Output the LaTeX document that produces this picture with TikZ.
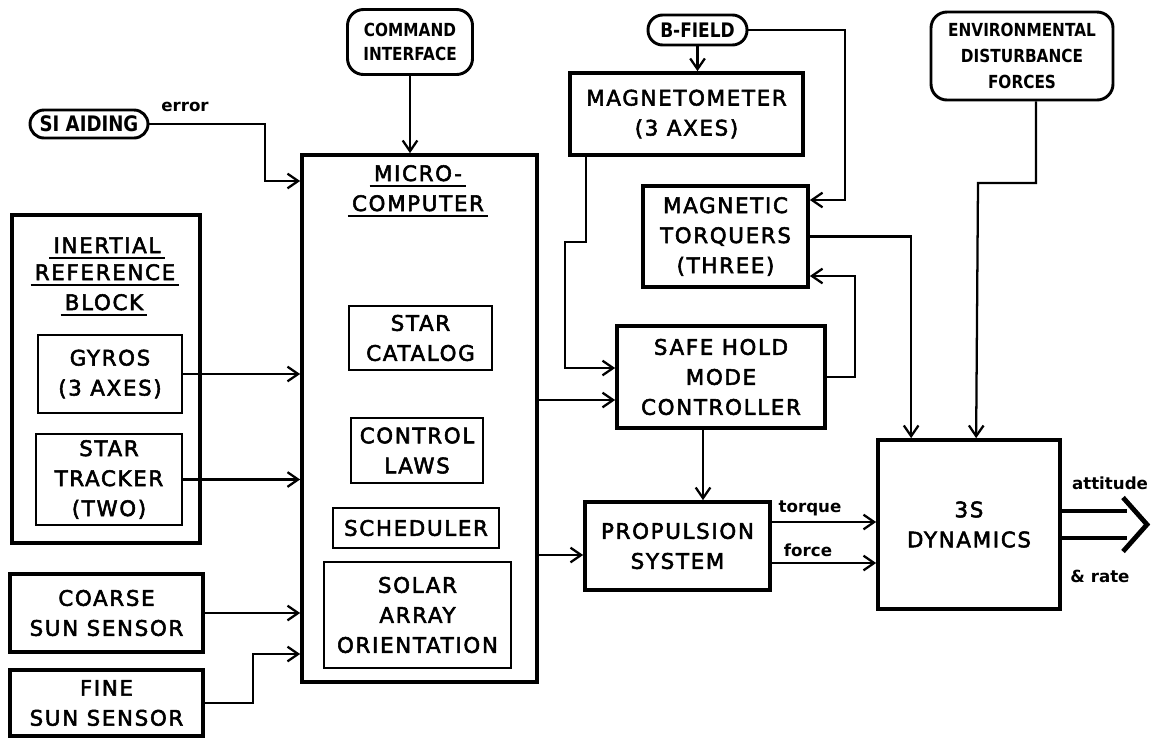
\documentclass[tikz,border=0pt]{standalone}
\usepackage{fontspec}
\setmainfont{DejaVu Sans}[LetterSpace=8,FakeBold=2.5]
\newfontfamily\pillfont{DejaVu Sans}[FakeStretch=0.85]
\newfontfamily\labelfont{DejaVu Sans}
\usetikzlibrary{arrows.meta,positioning,calc}

\begin{document}
\begin{tikzpicture}[x=0.75pt,y=-0.75pt,
  sz/.style 2 args={minimum width=#1*0.75pt,minimum height=#2*0.75pt},
  blk/.style={draw,line width=2.8pt,inner sep=0pt,align=center,font=\fontsize{16}{22.5}\selectfont},
  sub/.style={blk,line width=1.8pt},
  pill/.style={draw,line width=2.2pt,inner sep=0pt,align=center,rounded corners=12pt,
    font=\pillfont\bfseries\fontsize{13.5}{18.5}\selectfont},
  ttl/.style={inner xsep=3pt,inner ysep=3.5pt,font=\fontsize{16}{20}\selectfont},
  conn/.style={line width=1.7pt,-{Straight Barb[length=8pt,width=11pt]}},
  wire/.style={line width=1.7pt},
  outw/.style={line width=3.6pt},
  lbl/.style={font=\labelfont\bfseries\fontsize{12.5}{14}\selectfont}]
  \useasboundingbox (0,0) rectangle (1155,740);

  % left column
  \node[pill,sz={118}{28},rounded corners=10.5pt,font=\pillfont\bfseries\fontsize{16}{18}\selectfont] (aid) at (89,124) {SI AIDING};
  \node[blk,sz={188}{328}] (irb) at (106,379) {};
  \node[ttl,anchor=base] (it1) at (107,253) {INERTIAL};
  \node[ttl,anchor=base] (it2) at (105,280) {REFERENCE};
  \node[ttl,anchor=base] (it3) at (104,310) {BLOCK};
  \node[blk,line width=2.2pt,sz={144}{78}] (gyro) at (110,374) {GYROS\\(3 AXES)};
  \node[blk,line width=2.2pt,sz={146}{91}] (trk) at (109,479.5) {STAR\\TRACKER\\(TWO)};
  \node[blk,sz={193}{78}] (css) at (106.5,613) {COARSE\\SUN SENSOR};
  \node[blk,sz={193}{66}] (fss) at (106.5,703) {FINE\\SUN SENSOR};

  % micro-computer
  \node[pill,sz={125}{65}] (cmd) at (410,42) {COMMAND\\INTERFACE};
  \node[blk,sz={235}{527}] (micro) at (419.5,418.5) {};
  \node[ttl,anchor=base] (mt1) at (418,181) {MICRO-};
  \node[ttl,anchor=base] (mt2) at (418,211) {COMPUTER};
  \node[sub,sz={143}{64}] (cat) at (420.5,338) {STAR\\CATALOG};
  \node[sub,sz={132}{65}] (laws) at (417,450.5) {CONTROL\\LAWS};
  \node[sub,sz={166}{40}] (sched) at (416,528) {SCHEDULER};
  \node[sub,sz={187}{106}] (solar) at (417.5,615) {SOLAR\\ARRAY\\ORIENTATION};
  \foreach \t in {mt1,mt2,it1,it2,it3}
    \draw[wire] (\t.south west) -- (\t.south east);

  % actuators
  \node[pill,sz={99}{30},rounded corners=11pt,font=\pillfont\bfseries\fontsize{15}{18}\selectfont] (bf) at (697.5,30) {B-FIELD};
  \node[blk,sz={233}{82}] (mag) at (686.5,114) {MAGNETOMETER\\(3 AXES)};
  \node[blk,sz={165}{101}] (mtq) at (725.5,236.5) {MAGNETIC\\TORQUERS\\(THREE)};
  \node[blk,sz={208}{102}] (shm) at (721,377) {SAFE HOLD\\MODE\\CONTROLLER};
  \node[blk,sz={185}{88}] (prop) at (677.5,546) {PROPULSION\\SYSTEM};
  \node[pill,sz={182}{88},font=\pillfont\bfseries\fontsize{13.5}{19.5}\selectfont] (env) at (1022,56) {ENVIRONMENTAL\\DISTURBANCE\\FORCES};
  \node[blk,sz={182}{169}] (dyn) at (969,524.5) {3S\\DYNAMICS};

  \coordinate (yaid) at (0,181);
  \coordinate (yfss) at (0,654);
  \coordinate (ymtq) at (0,200);
  \coordinate (ymag) at (0,368);
  \coordinate (yshm) at (0,400);
  \coordinate (yfb) at (0,276);
  \coordinate (yprp) at (0,555);
  \coordinate (ytq) at (0,522);
  \coordinate (yfc) at (0,563);
  \coordinate (tip) at (1147,524.5);

  \draw[conn] (aid.east) -- (265,124) |- (micro.west |- yaid);
  \draw[conn] (cmd.south) -- (cmd.south |- micro.north);
  \draw[conn] (gyro.east) -- (micro.west |- gyro.east);
  \draw[conn] (trk.east) -- (micro.west |- trk.east);
  \draw[conn] (css.east) -- (micro.west |- css.east);
  \draw[conn] (fss.east) -| (253,654) -- (micro.west |- yfss);
  \draw[conn] (bf.south) -- (bf.south |- mag.north);
  \draw[conn] (bf.east) -| (845,200) -- (mtq.east |- ymtq);
  \draw[conn] ($(mag.south west)+(18,0)$) |- (565,242) |- (shm.west |- ymag);
  \draw[conn] (micro.east |- yshm) -- (shm.west |- yshm);
  \draw[conn] (micro.east |- yprp) -- (prop.west |- yprp);
  \draw[conn] ($(shm.south)+(-18,0)$) -- ($(prop.north)+(25.5,0)$);
  \draw[conn] (shm.east) -- (855,377) |- (mtq.east |- yfb);
  \draw[conn] (mtq.east) -| ($(dyn.north west)+(35,0)$);
  \draw[conn] ($(env.south)+(14,0)$) |- (978,183) -- ($(dyn.north west)+(100,0)$);
  \draw[conn] (prop.east |- ytq) -- (dyn.west |- ytq);
  \draw[conn] (prop.east |- yfc) -- (dyn.west |- yfc);

  % output
  \draw[outw] ($(dyn.east)+(0,-13.5)$) -- ($(tip)+(-20,-13.5)$);
  \draw[outw] ($(dyn.east)+(0,13.5)$) -- ($(tip)+(-20,13.5)$);
  \draw[outw] ($(tip)+(-24,-27)$) -- (tip) -- ($(tip)+(-24,27)$);

  \node[lbl] (err) at (185,107) {error};
  \node[lbl] (tqlab) at (810,508) {torque};
  \node[lbl] (fclab) at (808,550) {force};
  \node[lbl] (attlab) at (1110,483) {attitude};
  \node[lbl] (ratelab) at (1100,576) {\&~rate};
\end{tikzpicture}
\end{document}
